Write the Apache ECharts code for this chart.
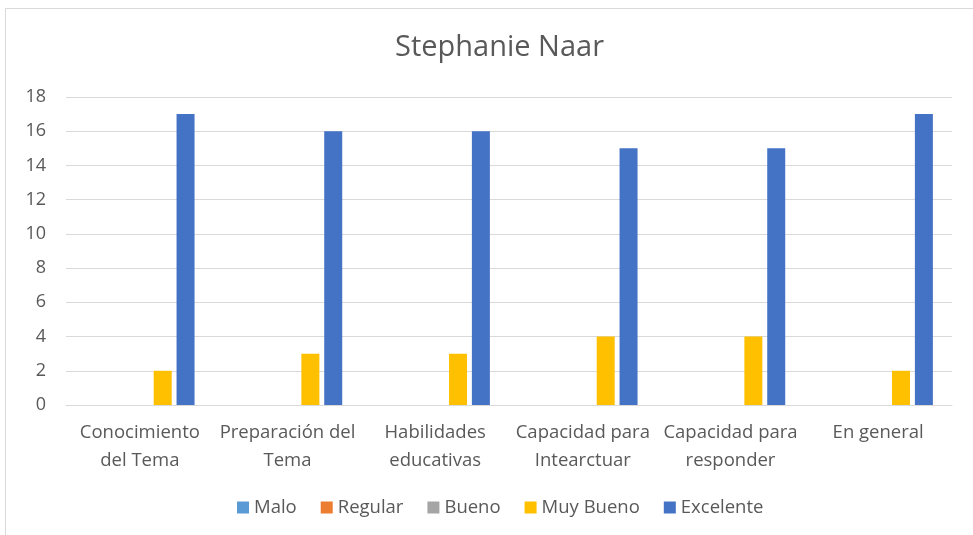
<!DOCTYPE html>
<html>
<head>
<meta charset="utf-8">
<script src="https://cdn.jsdelivr.net/npm/echarts@6/dist/echarts.min.js"></script>
<style>
  html, body { margin: 0; padding: 0; background: #fff; }
  #main { width: 973px; height: 535px; }
</style>
</head>
<body>
<div id="main"></div>
<script>
  // data
  var categories = ['Conocimiento\ndel Tema', 'Preparación del\nTema', 'Habilidades\neducativas',
                    'Capacidad para\nIntearctuar', 'Capacidad para\nresponder', 'En general'];
  var malo = [0, 0, 0, 0, 0, 0];
  var regular = [0, 0, 0, 0, 0, 0];
  var bueno = [0, 0, 0, 0, 0, 0];
  var muyBueno = [2, 3, 3, 4, 4, 2];
  var excelente = [17, 16, 16, 15, 15, 17];

  var txt = '#595959';
  var font = 'Open Sans';

  function bar(name, data, color) {
    return { name: name, type: 'bar', data: data, barWidth: 18, barGap: '27%',
             itemStyle: { color: color } };
  }

  var myChart = echarts.init(document.getElementById('main'));
  var option = {
    animation: false,
    textStyle: { fontFamily: font },
    title: {
      text: 'Stephanie Naar', left: 390, top: 28,
      textStyle: { fontSize: 29, fontWeight: 'normal', color: txt, fontFamily: font }
    },
    graphic: [{
      type: 'rect', shape: { x: 5.5, y: 8.5, width: 980, height: 540 },
      style: { fill: 'none', stroke: '#d9d9d9', lineWidth: 1 }, silent: true
    }],
    legend: {
      bottom: 13, left: 232, itemWidth: 12, itemHeight: 12, itemGap: 24,
      icon: 'rect',
      textStyle: { fontSize: 18.5, color: txt, fontFamily: font }
    },
    grid: { left: 66, right: 21, top: 97, bottom: 130 },
    xAxis: {
      type: 'category', data: categories,
      axisLine: { lineStyle: { color: '#d9d9d9', width: 1 } },
      axisTick: { show: false },
      axisLabel: { fontSize: 18.5, color: txt, lineHeight: 28, margin: 14, interval: 0 }
    },
    yAxis: {
      type: 'value', min: 0, max: 18, interval: 2,
      axisLine: { show: false }, axisTick: { show: false },
      splitLine: { lineStyle: { color: '#d9d9d9', width: 1 } },
      axisLabel: { fontSize: 18, color: txt, margin: 20 }
    },
    series: [
      bar('Malo', malo, '#5b9bd5'),
      bar('Regular', regular, '#ed7d31'),
      bar('Bueno', bueno, '#a5a5a5'),
      bar('Muy Bueno', muyBueno, '#ffc000'),
      bar('Excelente', excelente, '#4472c4')
    ]
  };
  myChart.setOption(option);
</script>
</body>
</html>
